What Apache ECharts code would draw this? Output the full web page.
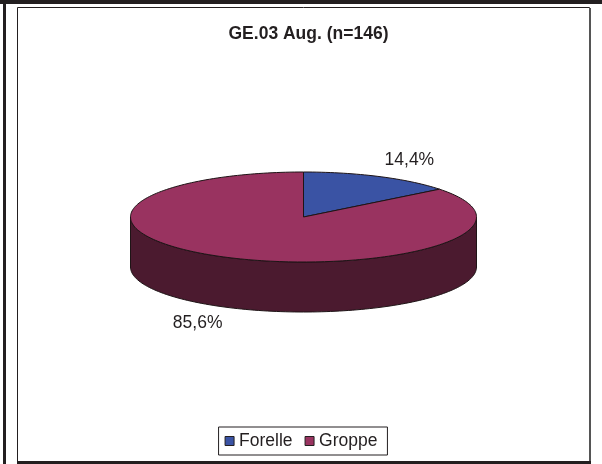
<!DOCTYPE html>
<html>
<head>
<meta charset="utf-8">
<script src="https://cdn.jsdelivr.net/npm/echarts@6/dist/echarts.min.js"></script>
<style>
  html, body { margin: 0; padding: 0; background: #ffffff; }
  #chart { width: 602px; height: 464px; }
</style>
</head>
<body>
<div id="chart"></div>
<script>
// Fish species share in the August GE.03 sample
const categories = ['Forelle', 'Groppe'];
const shares = [14.4, 85.6];
const titleText = 'GE.03 Aug. (n=146)';

// Appearance
const topColors = ['#3a53a4', '#993360'];
const sideColors = ['#2a3c78', '#4b1a2f'];
const FONT = 'Liberation Sans, Arial, Helvetica, sans-serif';

// Elliptical (tilted) pie geometry
const PIE = { cx: 303.5, cy: 217, rx: 173, ry: 45, depth: 50 };

const total = shares.reduce((a, b) => a + b, 0);
const startAngles = [];
let acc = 0;
shares.forEach(v => { startAngles.push(acc / total * 360); acc += v; });

// angle in degrees, measured clockwise from 12 o'clock
function pt(deg, dy) {
  const r = deg * Math.PI / 180;
  return [PIE.cx + PIE.rx * Math.sin(r), PIE.cy - PIE.ry * Math.cos(r) + (dy || 0)];
}
function arc(a0, a1, dy) {
  const pts = [];
  const n = Math.max(2, Math.ceil(Math.abs(a1 - a0) / 1.5));
  for (let k = 0; k <= n; k++) pts.push(pt(a0 + (a1 - a0) * k / n, dy));
  return pts;
}
function fmt(v) { return v.toFixed(1).replace('.', ',') + '%'; }

// Visible front wall of each slice (between 90° and 270°)
function renderSide(params) {
  const i = params.dataIndex;
  const a0 = startAngles[i], a1 = a0 + shares[i] / total * 360;
  const s = Math.max(a0, 90), e = Math.min(a1, 270);
  if (e <= s) return null;
  const top = arc(s, e, 0);
  const bottom = arc(e, s, PIE.depth);
  return {
    type: 'polygon',
    shape: { points: top.concat(bottom) },
    style: { fill: sideColors[i], stroke: '#1e1416', lineWidth: 1 }
  };
}

function makeTopRenderer(i) {
  return function () {
    const a0 = startAngles[i], a1 = a0 + shares[i] / total * 360;
    const pts = [[PIE.cx, PIE.cy]].concat(arc(a0, a1, 0));
    const mid = (a0 + a1) / 2 * Math.PI / 180;
    const f = 1.4;
    const front = Math.cos(mid) < 0;
    const lx = PIE.cx + PIE.rx * f * Math.sin(mid);
    const ly = PIE.cy - PIE.ry * f * Math.cos(mid) + (front ? PIE.depth : 0);
    return {
      type: 'group',
      children: [
        {
          type: 'polygon',
          shape: { points: pts },
          style: { fill: topColors[i], stroke: '#1e1416', lineWidth: 1 }
        },
        {
          type: 'text',
          x: lx, y: ly,
          style: {
            text: fmt(shares[i]),
            align: 'center', verticalAlign: 'middle',
            fontSize: 17.5, fontFamily: FONT, fill: '#231f20'
          }
        }
      ]
    };
  };
}

const series = [{
  type: 'custom',
  name: 'side',
  coordinateSystem: 'none',
  silent: true,
  z: 1,
  renderItem: renderSide,
  data: shares.map(v => [v])
}];
categories.forEach((c, i) => {
  series.push({
    type: 'custom',
    name: c,
    coordinateSystem: 'none',
    silent: true,
    z: 2,
    itemStyle: { color: topColors[i] },
    renderItem: makeTopRenderer(i),
    data: [[shares[i]]]
  });
});

const chart = echarts.init(document.getElementById('chart'), null, { renderer: 'canvas' });
chart.setOption({
  animation: false,
  backgroundColor: '#ffffff',
  title: {
    text: titleText,
    left: 303.5, textAlign: 'center',
    top: 20,
    textStyle: { fontSize: 17.5, fontWeight: 'bold', fontFamily: FONT, color: '#231f20' }
  },
  legend: {
    data: categories,
    bottom: 9,
    left: 'center',
    icon: 'rect',
    itemWidth: 9, itemHeight: 9,
    itemGap: 12,
    padding: [5, 10, 5, 6],
    borderColor: '#231f20', borderWidth: 1,
    itemStyle: { borderColor: '#231f20', borderWidth: 1 },
    textStyle: { fontSize: 17.5, fontFamily: FONT, color: '#231f20' },
    selectedMode: false
  },
  graphic: [
    { type: 'rect', silent: true, shape: { x: 0, y: 0, width: 602, height: 4 }, style: { fill: '#231f20' } },
    { type: 'rect', silent: true, shape: { x: 3, y: 0, width: 3, height: 464 }, style: { fill: '#231f20' } },
    { type: 'rect', silent: true, shape: { x: 17.5, y: 7.5, width: 572, height: 454 }, style: { fill: 'none', stroke: '#231f20', lineWidth: 1 } },
    { type: 'rect', silent: true, shape: { x: 589, y: 8, width: 2, height: 454 }, style: { fill: '#555555' } },
    { type: 'rect', silent: true, shape: { x: 17, y: 461, width: 574, height: 3 }, style: { fill: '#231f20' } }
  ],
  series: series
});
</script>
</body>
</html>
